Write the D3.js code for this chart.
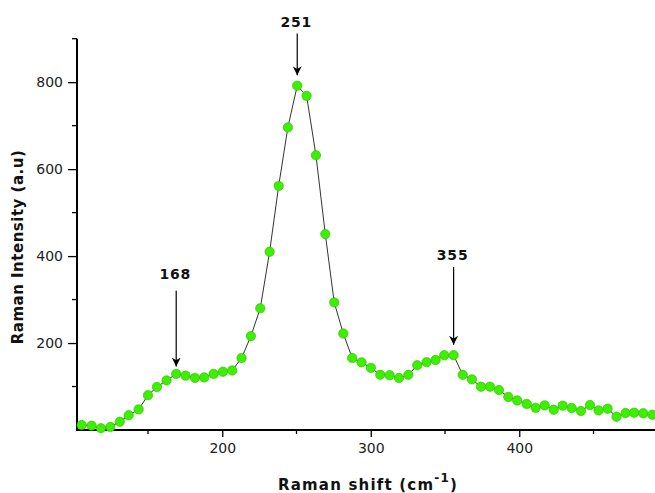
<!DOCTYPE html>
<html>
<head>
<meta charset="utf-8">
<script src="https://cdn.jsdelivr.net/npm/d3@7"></script>
<style>
  html, body { margin: 0; padding: 0; background: #fff; }
  svg { display: block; }
</style>
</head>
<body>
<svg id="chart" width="655" height="493"></svg>
<script>
// Raman shift (cm^-1)
const shift = [105.3, 112.0, 118.3, 124.6, 131.0, 137.0, 143.7, 150.0, 156.0, 162.5,
  169.0, 175.3, 181.6, 187.9, 194.2, 200.5, 206.7, 213.0, 219.3, 225.6,
  231.9, 238.0, 244.2, 250.5, 256.8, 263.1, 269.4, 275.4, 281.5, 287.5,
  293.8, 300.1, 306.4, 312.7, 319.0, 325.3, 331.3, 337.6, 343.7, 349.5,
  355.8, 361.9, 368.1, 374.2, 380.3, 386.3, 392.6, 398.6, 405.0, 411.0,
  417.1, 423.2, 429.2, 435.3, 441.5, 447.6, 453.4, 459.5, 465.5, 471.6,
  477.4, 483.5, 489.6];
// Raman intensity (a.u)
const intensity = [11.5, 10, 4, 7, 19, 34, 47.5, 80, 99, 114,
  129, 125, 120, 121, 129, 134, 137, 165.5, 216, 280,
  410, 561.6, 696, 792, 768.5, 632, 450.6, 293.5, 222, 165.5,
  155.6, 143, 127, 126, 119.5, 127, 149, 156, 161, 172,
  172, 127, 116.5, 99.6, 99.6, 92, 76, 68, 60, 51,
  56.7, 46.7, 56, 50.6, 43.7, 57.5, 45, 49, 30.6, 39,
  39.8, 38.4, 35];
const yMajorTicks = [200, 400, 600, 800];
const yMinorTicks = [100, 300, 500, 700, 900];
const xMajorTicks = [200, 300, 400];
const xMinorTicks = [150, 250, 350, 450];
// annotated peaks: label, x position, arrow top/bottom and label baseline in intensity units
const peakLabels = ["168", "251", "355"];
const peakX = [169.0, 250.5, 355.8];
const peakArrowFrom = [320, 912, 375];
const peakArrowTo = [146, 816, 196];
const peakLabelAt = [347, 927, 390];
const xTitle = "Raman shift (cm";
const xTitleSup = "-1";
const yTitle = "Raman Intensity (a.u)";

const svg = d3.select("#chart");
const x = d3.scaleLinear().domain([102.2, 491.4]).range([77, 655]);
const y = d3.scaleLinear().domain([0, 900]).range([430, 38.7]);

const font = "'DejaVu Sans', Verdana, sans-serif";

// Y axis
const yAxisG = svg.append("g").attr("transform", "translate(77,0)");
yAxisG.call(d3.axisLeft(y).tickValues(yMajorTicks).tickSize(9).tickPadding(5).tickSizeOuter(0));
yAxisG.select(".domain").remove();
yAxisG.selectAll(".tick line").attr("stroke", "#000").attr("stroke-width", 1.3);
yAxisG.selectAll(".tick text").attr("font-family", font).attr("font-size", 14).attr("fill", "#222");
yAxisG.selectAll(".minor").data(yMinorTicks).enter().append("line")
  .attr("x1", -5).attr("x2", 0).attr("y1", d => y(d)).attr("y2", d => y(d))
  .attr("stroke", "#000").attr("stroke-width", 1.3);
yAxisG.append("line").attr("x1", 0).attr("x2", 0).attr("y1", y(900)).attr("y2", y(0) + 1)
  .attr("stroke", "#000").attr("stroke-width", 2);

// X axis
const xAxisG = svg.append("g").attr("transform", "translate(0,430)");
xAxisG.call(d3.axisBottom(x).tickValues(xMajorTicks).tickSize(7).tickPadding(6).tickSizeOuter(0));
xAxisG.select(".domain").remove();
xAxisG.selectAll(".tick line").attr("stroke", "#000").attr("stroke-width", 1.3);
xAxisG.selectAll(".tick text").attr("font-family", font).attr("font-size", 14).attr("fill", "#222");
xAxisG.selectAll(".minor").data(xMinorTicks).enter().append("line")
  .attr("x1", d => x(d)).attr("x2", d => x(d)).attr("y1", 0).attr("y2", 4)
  .attr("stroke", "#000").attr("stroke-width", 1.3);
xAxisG.append("line").attr("x1", 76).attr("x2", 655).attr("y1", 0).attr("y2", 0)
  .attr("stroke", "#000").attr("stroke-width", 2);

// Line
const pts = shift.map((s, i) => [s, intensity[i]]);
svg.append("path").datum(pts)
  .attr("fill", "none").attr("stroke", "#333").attr("stroke-width", 1)
  .attr("d", d3.line().x(d => x(d[0])).y(d => y(d[1])));

// Points
svg.append("g").selectAll("circle").data(pts).enter().append("circle")
  .attr("cx", d => x(d[0])).attr("cy", d => y(d[1])).attr("r", 4.7)
  .attr("fill", "#3cf000").attr("stroke", "#2fb800").attr("stroke-width", 0.6);

// Arrow marker
const defs = svg.append("defs");
defs.append("marker").attr("id", "arr").attr("viewBox", "0 0 10 10")
  .attr("refX", 10).attr("refY", 5).attr("markerWidth", 9).attr("markerHeight", 9)
  .attr("markerUnits", "userSpaceOnUse").attr("orient", "auto")
  .append("path").attr("d", "M0,0 L10,5 L0,10 L3,5 Z").attr("fill", "#000");

peakLabels.forEach((lab, i) => {
  const px = x(peakX[i]);
  svg.append("line").attr("x1", px).attr("x2", px)
    .attr("y1", y(peakArrowFrom[i])).attr("y2", y(peakArrowTo[i]))
    .attr("stroke", "#000").attr("stroke-width", 1.2).attr("marker-end", "url(#arr)");
  svg.append("text").attr("x", px - 1).attr("y", y(peakLabelAt[i]))
    .attr("text-anchor", "middle").attr("font-family", font).attr("font-weight", "bold")
    .attr("font-size", 14).attr("letter-spacing", 0.8).attr("fill", "#111").text(lab);
});

// Axis titles
const xt = svg.append("text").attr("x", 368).attr("y", 490).attr("text-anchor", "middle")
  .attr("font-family", font).attr("font-weight", "bold").attr("font-size", 15).attr("fill", "#111")
  .attr("letter-spacing", 1.2);
xt.append("tspan").text(xTitle);
xt.append("tspan").attr("dy", -8).attr("font-size", 12).text(xTitleSup);
xt.append("tspan").attr("dy", 8).text(")");

svg.append("text").attr("transform", "translate(23,247) rotate(-90)")
  .attr("text-anchor", "middle").attr("font-family", font).attr("font-weight", "bold")
  .attr("font-size", 15).attr("fill", "#111").attr("letter-spacing", 0.5).text(yTitle);
</script>
</body>
</html>
